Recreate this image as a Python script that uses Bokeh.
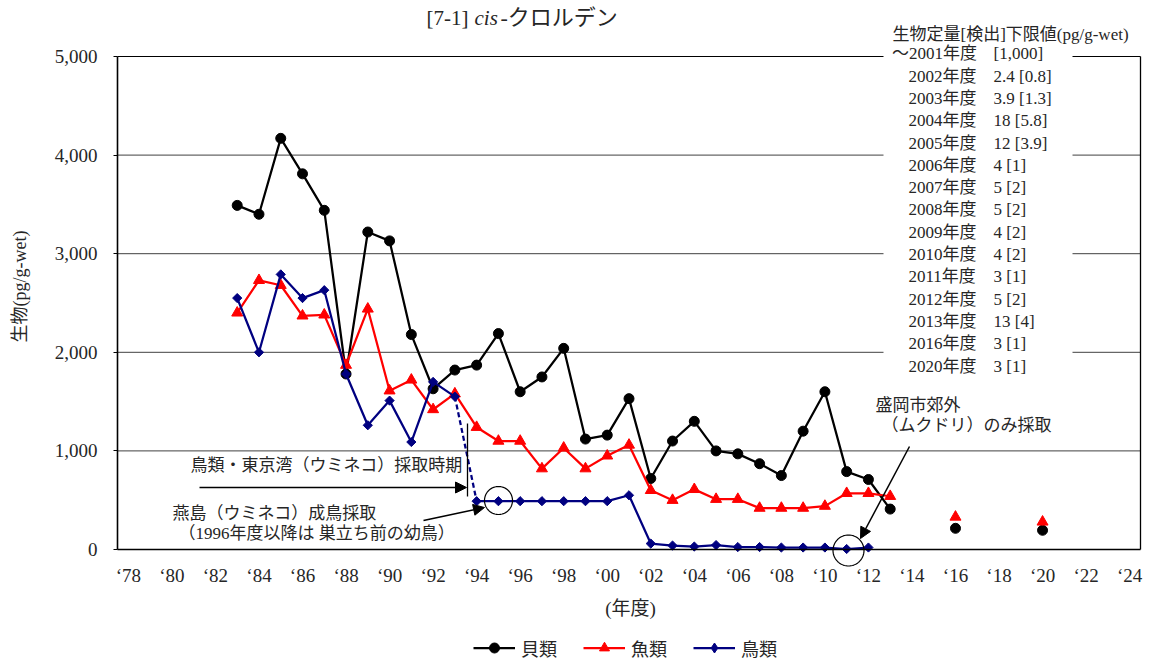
import numpy as np
from bokeh.plotting import figure
from bokeh.models import (Range1d, FixedTicker, NumeralTickFormatter, Label, Arrow, LinearAxis,
                          Grid, NormalHead, BoxAnnotation, PolyAnnotation, Legend, LegendItem)
from bokeh.embed import file_html
from bokeh.resources import INLINE

# ---------------- data ----------------
shell_years = [1983, 1984, 1985, 1986, 1987, 1988, 1989, 1990, 1991, 1992, 1993,
               1994, 1995, 1996, 1997, 1998, 1999, 2000, 2001, 2002, 2003, 2004,
               2005, 2006, 2007, 2008, 2009, 2010, 2011, 2012, 2013, 2016, 2020]
shell_vals = [3490, 3400, 4170, 3810, 3440, 1780, 3220, 3130, 2180, 1630, 1820,
              1870, 2190, 1600, 1750, 2040, 1120, 1160, 1530, 720, 1100, 1300,
              1000, 970, 870, 750, 1200, 1600, 790, 710, 410, 215, 195]

fish_years = [1983, 1984, 1985, 1986, 1987, 1988, 1989, 1990, 1991, 1992, 1993,
              1994, 1995, 1996, 1997, 1998, 1999, 2000, 2001, 2002, 2003, 2004,
              2005, 2006, 2007, 2008, 2009, 2010, 2011, 2012, 2013, 2016, 2020]
fish_vals = [2400, 2730, 2680, 2370, 2380, 1870, 2440, 1610, 1720, 1420, 1580,
             1240, 1100, 1100, 820, 1030, 820, 950, 1060, 600, 500, 610,
             510, 510, 420, 420, 420, 440, 570, 570, 540, 330, 280]

bird_years = [1983, 1984, 1985, 1986, 1987, 1988, 1989, 1990, 1991, 1992, 1993,
              1994, 1995, 1996, 1997, 1998, 1999, 2000, 2001, 2002, 2003, 2004,
              2005, 2006, 2007, 2008, 2009, 2010, 2011, 2012]
bird_vals = [2550, 2000, 2790, 2550, 2630, 1780, 1260, 1510, 1090, 1700, 1550,
             490, 490, 490, 490, 490, 490, 490, 550, 60, 40, 30,
             45, 25, 25, 20, 20, 20, 5, 20]

x_ticks = [1978, 1980, 1982, 1984, 1986, 1988, 1990, 1992, 1994, 1996, 1998, 2000,
           2002, 2004, 2006, 2008, 2010, 2012, 2014, 2016, 2018, 2020, 2022, 2024]
x_tick_labels = ["‘78", "‘80", "‘82", "‘84", "‘86", "‘88", "‘90", "‘92", "‘94", "‘96",
                 "‘98", "‘00", "‘02", "‘04", "‘06", "‘08", "‘10", "‘12", "‘14", "‘16",
                 "‘18", "‘20", "‘22", "‘24"]
y_ticks = [0, 1000, 2000, 3000, 4000, 5000]
grid_ticks = [1000, 2000, 3000, 4000]

limit_header = "生物定量[検出]下限値(pg/g-wet)"
limit_years = ["～2001年度", "2002年度", "2003年度", "2004年度", "2005年度", "2006年度",
               "2007年度", "2008年度", "2009年度", "2010年度", "2011年度", "2012年度",
               "2013年度", "2016年度", "2020年度"]
limit_vals = ["[1,000]", "2.4 [0.8]", "3.9 [1.3]", "18 [5.8]", "12 [3.9]", "4 [1]",
              "5 [2]", "5 [2]", "4 [2]", "4 [2]", "3 [1]", "5 [2]", "13 [4]", "3 [1]", "3 [1]"]

# ---------------- helpers (page pixel -> data) ----------------
W, H = 1151, 661
FL, FR, FT, FB = 117, 1140, 56, 549          # plot-area edges in page pixels
X0, X1, Y0, Y1 = 1977.5, 2024.5, 0, 5000


def dx(px):
    return X0 + (px - FL) * (X1 - X0) / (FR - FL)


def dy(py):
    return Y0 + (FB - py) * (Y1 - Y0) / (FB - FT)


FONT = "'Liberation Serif', 'Noto Sans CJK JP'"
TXT = "#262626"

p = figure(width=W, height=H, x_range=Range1d(dx(0), dx(W)), y_range=Range1d(dy(H), dy(0)),
           x_axis_location=None, y_axis_location=None, min_border=0,
           output_backend="svg", toolbar_location=None)
p.background_fill_color = "white"
p.border_fill_color = "white"
p.outline_line_color = None
# drop default grids
p.center = [r for r in p.center if not isinstance(r, Grid)]

# horizontal grid lines, only across the plot area
p.segment(x0=[X0] * len(grid_ticks), y0=grid_ticks, x1=[X1] * len(grid_ticks), y1=grid_ticks,
          line_color="#404040", line_width=1)

# x axis (bottom edge of plot area)
xa = LinearAxis(fixed_location=Y0, bounds=(X0, X1), ticker=FixedTicker(ticks=x_ticks))
xa.major_label_overrides = {t: l for t, l in zip(x_ticks, x_tick_labels)}
xa.major_tick_out = 0
xa.major_tick_in = 0
xa.minor_tick_line_color = None
xa.axis_line_width = 1.6
xa.axis_line_color = "black"
xa.major_label_standoff = 15
xa.major_label_text_font = FONT
xa.major_label_text_font_size = "19px"
xa.major_label_text_color = TXT
p.add_layout(xa, "below")

# y axis (left edge of plot area)
ya = LinearAxis(fixed_location=X0, bounds=(Y0, Y1), ticker=FixedTicker(ticks=y_ticks),
                formatter=NumeralTickFormatter(format="0,0"))
ya.major_tick_out = 4
ya.major_tick_in = 0
ya.minor_tick_line_color = None
ya.axis_line_width = 1.6
ya.axis_line_color = "black"
ya.major_label_standoff = 16
ya.major_label_text_font = FONT
ya.major_label_text_font_size = "19px"
ya.major_label_text_color = TXT
p.add_layout(ya, "left")

# top and right borders
ta = LinearAxis(fixed_location=Y1, bounds=(X0, X1), ticker=FixedTicker(ticks=[]),
                major_tick_line_color=None, minor_tick_line_color=None,
                axis_line_width=1.2, axis_line_color="black")
p.add_layout(ta, "above")
ra = LinearAxis(fixed_location=X1, bounds=(Y0, Y1), ticker=FixedTicker(ticks=[]),
                major_tick_line_color=None, minor_tick_line_color=None,
                axis_line_width=1.3, axis_line_color="black")
p.add_layout(ra, "right")

# ---------------- series ----------------
LW = 2.25
NAVY = "#000080"
RED = "#FF0000"
n_sh = sum(1 for y in shell_years if y <= 2013)
l_sh = p.line(shell_years[:n_sh], shell_vals[:n_sh], line_color="black", line_width=LW)
s_sh = p.scatter(shell_years, shell_vals, marker="circle", size=10,
                 fill_color="black", line_color="black")

n_fi = sum(1 for y in fish_years if y <= 2013)
l_fi = p.line(fish_years[:n_fi], fish_vals[:n_fi], line_color=RED, line_width=LW)
s_fi = p.scatter(fish_years, fish_vals, marker="triangle", size=11,
                 fill_color=RED, line_color=RED)

i93 = bird_years.index(1993)
l_bi1 = p.line(bird_years[:i93 + 1], bird_vals[:i93 + 1], line_color=NAVY, line_width=LW)
p.line(bird_years[i93:i93 + 2], bird_vals[i93:i93 + 2], line_color=NAVY,
       line_width=LW, line_dash="5 3")
p.line(bird_years[i93 + 1:], bird_vals[i93 + 1:], line_color=NAVY, line_width=LW)
s_bi = p.scatter(bird_years, bird_vals, marker="square", angle=np.pi / 4, size=6.5,
                 fill_color=NAVY, line_color=NAVY)
# legend-only glyph (diamond shape; NaN so nothing is drawn on the plot)
s_bi_leg = p.scatter([np.nan], [np.nan], marker="diamond", size=10,
                     fill_color=NAVY, line_color=NAVY)

# ---------------- annotations ----------------
# white box behind the detection-limit table
p.add_layout(BoxAnnotation(left=dx(883), right=dx(1072), bottom=dy(377), top=dy(44),
                           fill_color="white", fill_alpha=1.0, line_color=None))


def label(px, py, text, size="17px", align="left", style="normal", angle=0.0):
    p.add_layout(Label(x=dx(px), y=dy(py), text=text, text_font=FONT, text_font_size=size,
                       text_font_style=style, text_baseline="middle", text_align=align,
                       text_color=TXT, angle=angle))


# title
label(426, 17, "[7-1]", size="21px")
label(474, 17, "cis", size="21px", style="italic")
label(500, 17, "-クロルデン", size="22px")

# axis titles
label(19, 286, "生物(pg/g-wet)", size="18px", align="center", angle=np.pi / 2)
label(630, 608, "(年度)", size="19px", align="center")

# detection limits table
label(892, 34, limit_header)
for i, (yl, vl) in enumerate(zip(limit_years, limit_vals)):
    ypix = 53.3 + i * 22.3
    label(891.5 if i == 0 else 908, ypix, yl)
    label(993, ypix, vl)

# sampling-period annotation
label(190, 465, "鳥類・東京湾（ウミネコ）採取時期")
p.add_layout(Arrow(x_start=dx(199), y_start=dy(487), x_end=dx(466), y_end=dy(487),
                   line_color="black", line_width=1.5,
                   end=NormalHead(size=11, fill_color="black", line_color="black")))
p.add_layout(Arrow(x_start=dx(467), y_start=dy(423), x_end=dx(467), y_end=dy(496),
                   line_color="black", line_width=1.3, end=None))

label(172, 513, "燕島（ウミネコ）成鳥採取")
label(178, 533, "（1996年度以降は 巣立ち前の幼鳥）")
p.add_layout(Arrow(x_start=dx(423), y_start=dy(520), x_end=dx(484), y_end=dy(507),
                   line_color="black", line_width=1.5,
                   end=NormalHead(size=11, fill_color="black", line_color="black")))

label(875, 405, "盛岡市郊外")
label(881, 425, "（ムクドリ）のみ採取")
p.add_layout(Arrow(x_start=dx(909), y_start=dy(446), x_end=dx(860), y_end=dy(538),
                   line_color="black", line_width=1.5,
                   end=NormalHead(size=11, fill_color="black", line_color="black")))

# circles
t = np.linspace(0, 2 * np.pi, 73)
for cx, cy, r in [(498, 500, 14), (848, 550, 15.5)]:
    p.add_layout(PolyAnnotation(xs=[dx(cx + r * np.cos(a)) for a in t],
                                ys=[dy(cy + r * np.sin(a)) for a in t],
                                fill_alpha=0, line_color="black", line_alpha=1.0,
                                line_width=1.2))

# legend
legend = Legend(items=[LegendItem(label="貝類", renderers=[l_sh, s_sh]),
                       LegendItem(label="魚類", renderers=[l_fi, s_fi]),
                       LegendItem(label="鳥類", renderers=[l_bi1, s_bi_leg])],
                orientation="horizontal", location=(473, 0.5),
                glyph_width=42, glyph_height=25, label_height=18, label_standoff=6,
                spacing=26, padding=0, margin=0, border_line_color=None,
                background_fill_alpha=0, label_text_font=FONT,
                label_text_font_size="18px", label_text_color=TXT)
p.add_layout(legend, "center")

open("out.html", "w").write(file_html(p, INLINE))
